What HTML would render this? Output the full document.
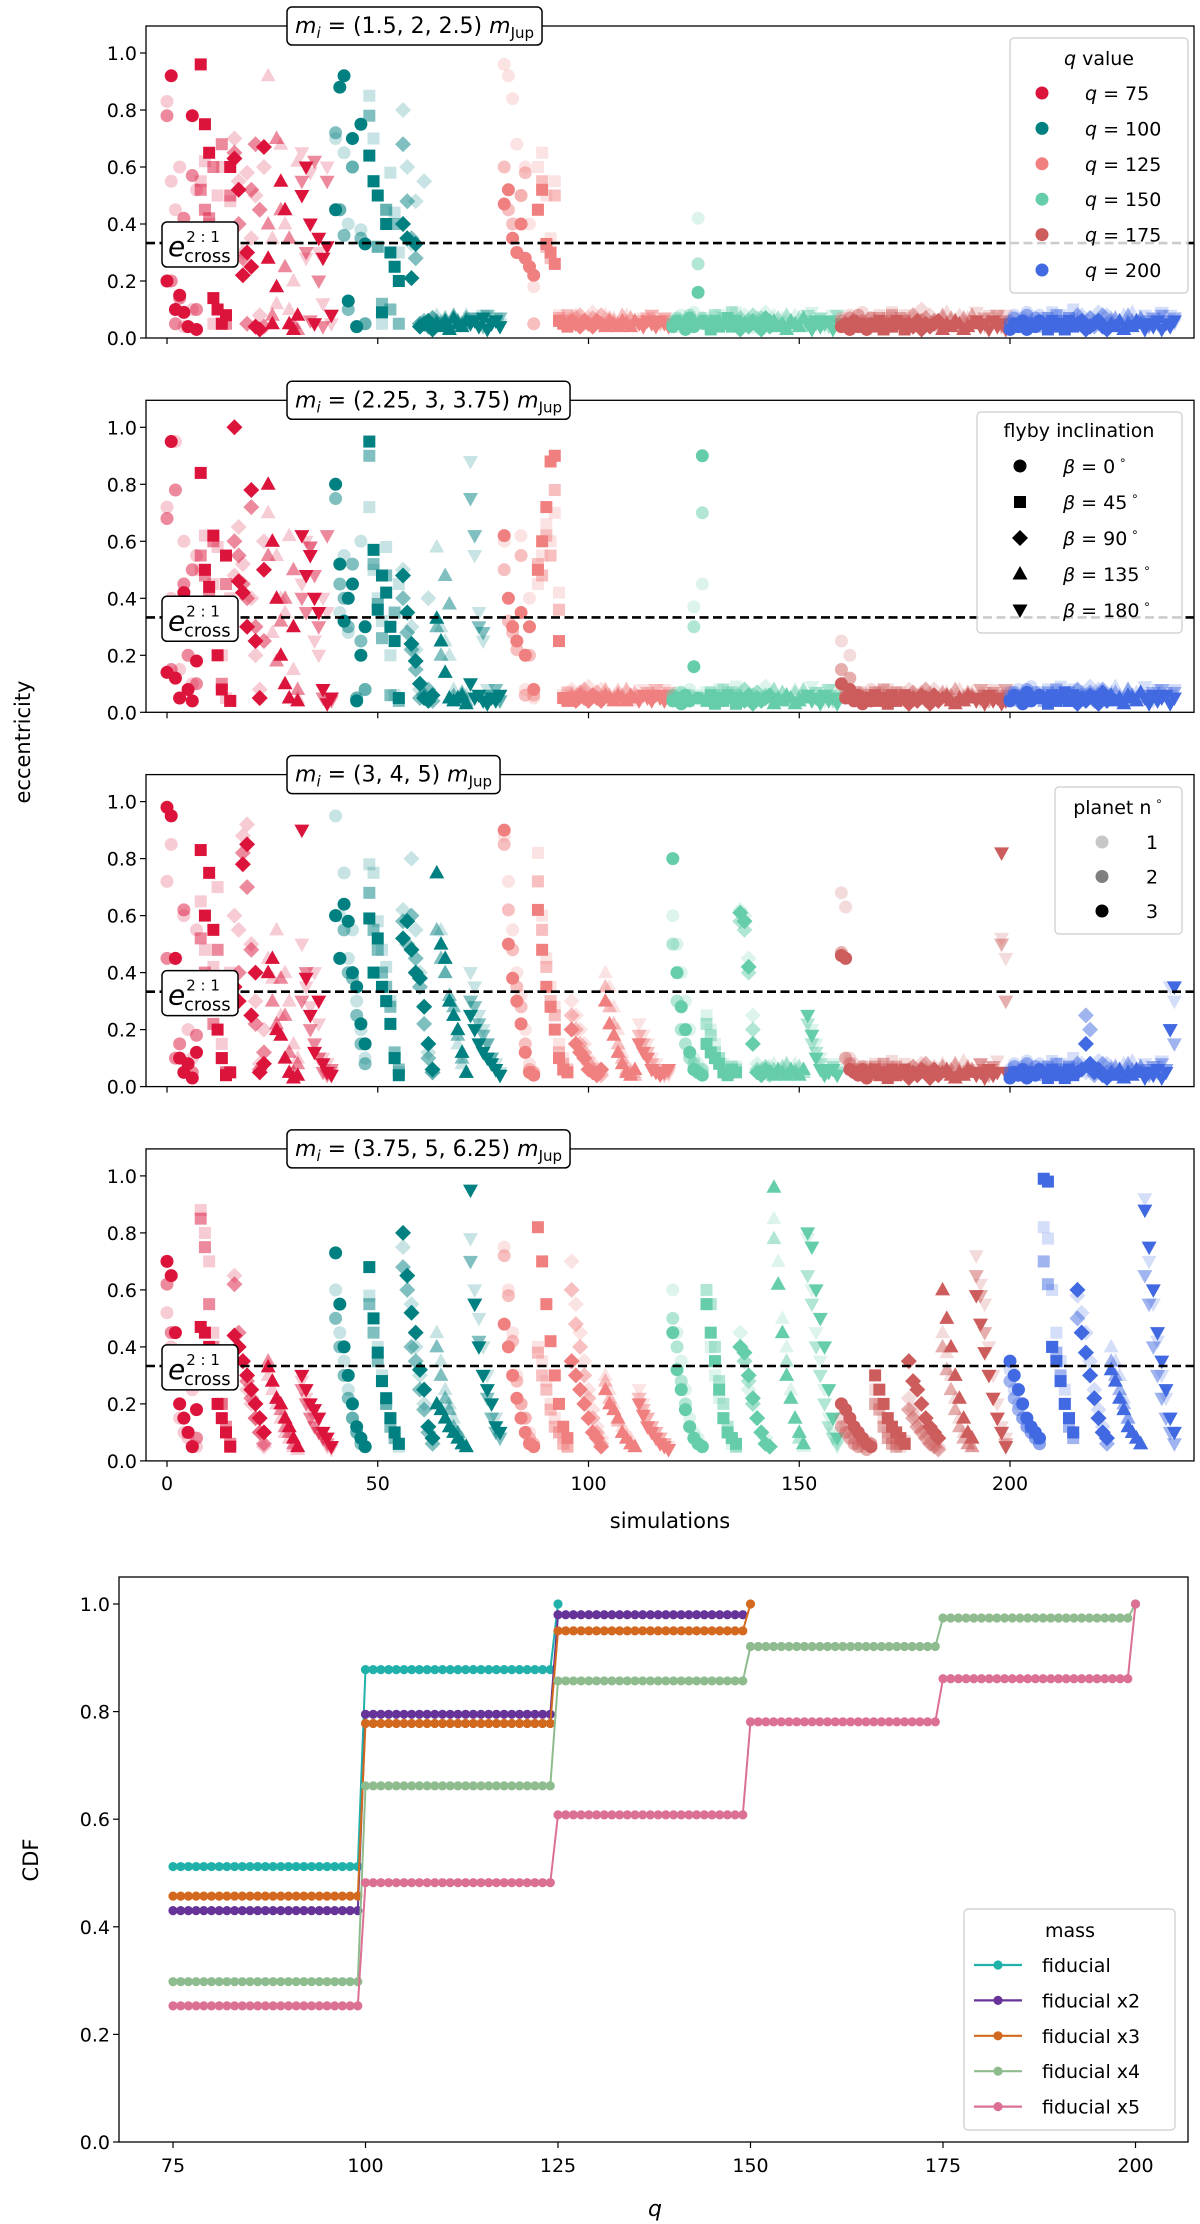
<!DOCTYPE html>
<html><head><meta charset="utf-8"><style>
html,body{margin:0;padding:0;background:#fff;}
svg{display:block;font-family:"DejaVu Sans","Liberation Sans",sans-serif;}
</style></head><body>
<svg id="fig" width="1200" height="2224" viewBox="0 0 1200 2224" xmlns="http://www.w3.org/2000/svg"></svg>
<script>
// ---------- DATA: eccentricities (x100) per panel, per planet, 240 simulations ----------
const P1e1=[83,55,45,60,4,30,10,52,55,62,40,5,50,60,8,48,70,55,30,58,35,50,8,60,92,35,12,68,40,10,20,62,65,28,58,5,30,12,60,5,
70,45,65,40,60,4,38,5,85,70,32,5,45,58,44,30,80,60,33,48,5,55,4,7,8,6,5,4,7,6,5,8,7,6,5,8,4,6,7,5,
96,92,84,68,50,60,40,18,60,65,50,35,55,8,7,6,7,8,6,5,7,9,6,5,8,6,7,5,6,8,7,6,5,7,6,8,5,6,7,5,
6,4,8,5,7,9,42,5,7,6,4,8,5,7,6,9,5,8,6,4,7,5,9,6,8,5,7,6,4,8,5,7,6,9,5,7,4,6,8,5,
7,5,8,6,4,9,5,7,6,8,5,7,9,4,6,8,5,7,6,10,5,8,6,4,7,9,6,5,8,6,7,5,9,6,4,8,5,7,6,8,
6,8,5,7,9,6,4,8,7,5,9,6,8,5,7,10,6,8,5,7,6,9,5,8,7,6,4,8,6,9,5,7,8,6,5,7,9,6,8,5];
const P1e2=[78,20,5,14,42,4,57,10,52,45,42,60,10,68,5,50,65,40,28,5,52,68,45,4,40,8,70,45,25,35,5,3,55,30,6,62,20,4,55,8,
72,45,36,10,60,4,35,5,78,55,32,12,45,10,40,5,68,48,35,28,5,6,4,7,6,5,7,4,8,6,5,7,6,7,5,4,8,5,6,7,
60,45,40,30,50,58,25,5,45,55,32,28,50,7,6,8,5,7,8,6,5,7,6,8,5,7,6,5,8,6,7,5,6,5,7,8,6,5,7,6,
5,7,6,4,8,5,26,7,6,4,8,5,7,6,9,5,7,5,6,8,4,7,5,6,4,7,5,8,6,5,7,4,8,6,5,7,6,4,5,8,
6,4,7,5,8,6,4,7,5,7,6,4,8,5,7,6,4,8,5,6,7,4,6,5,8,5,7,6,4,7,5,8,6,4,7,5,6,8,4,6,
5,7,4,6,8,5,7,6,4,7,5,8,6,4,7,5,8,6,5,7,4,6,8,5,6,7,5,4,8,6,5,7,6,4,7,5,8,6,4,7];
const P1e3=[20,92,10,15,9,4,78,3,96,75,65,14,10,5,8,60,63,52,22,30,25,4,3,67,28,5,18,55,45,5,3,8,50,60,40,5,35,28,32,8,
45,88,92,13,70,4,75,33,64,55,50,9,40,30,25,20,40,35,21,33,4,5,6,3,5,4,6,3,7,5,4,6,5,6,4,7,3,5,6,4,
47,52,35,30,40,28,25,22,45,52,33,30,26,6,5,4,6,5,4,6,5,4,6,5,4,6,5,4,6,5,4,6,5,4,6,5,4,6,5,4,
4,6,5,3,7,4,16,6,5,3,6,4,5,7,4,6,3,5,4,6,5,3,7,4,6,4,5,3,6,5,4,7,5,3,6,4,5,6,3,5,
4,5,3,6,4,5,3,5,4,6,3,5,4,6,5,3,5,4,6,3,5,4,5,6,3,5,4,6,5,3,4,5,6,4,5,3,6,4,5,3,
3,5,4,6,3,5,4,6,5,3,6,4,5,3,6,4,5,6,3,4,5,6,4,3,5,4,6,3,5,4,6,5,3,5,4,6,3,5,4,6];

const P2e1=[72,40,95,15,60,35,10,55,50,62,30,45,58,20,5,40,48,65,52,30,40,20,8,60,70,28,55,40,35,62,15,5,45,60,58,25,20,40,35,5,
80,35,55,28,45,5,60,8,72,50,40,32,58,20,6,45,50,35,30,22,8,5,40,6,58,30,25,20,8,5,4,6,88,55,35,25,8,6,5,4,
60,40,30,25,62,8,40,5,45,55,66,60,70,42,6,5,8,6,5,7,9,6,5,8,7,5,6,8,5,7,6,4,6,8,5,7,6,5,8,6,
5,7,6,4,8,37,6,45,7,5,6,8,5,7,6,9,5,8,6,4,7,5,9,6,8,5,7,6,4,8,5,7,6,9,5,7,4,6,8,5,
25,8,20,6,5,7,4,8,6,7,5,8,6,4,7,5,8,6,5,7,4,6,8,5,6,7,5,4,8,6,5,7,6,4,7,5,8,6,4,7,
7,5,8,6,4,9,5,7,6,8,5,7,9,4,6,8,5,7,6,9,5,8,6,4,7,9,6,5,8,6,7,5,9,6,4,8,5,7,6,8];
const P2e2=[68,15,78,5,45,20,50,10,55,48,40,60,30,10,45,4,60,55,45,40,72,30,5,25,55,60,18,32,40,5,50,8,40,35,58,48,30,5,62,4,
75,45,40,30,52,5,25,8,90,52,38,26,48,6,35,4,40,28,22,15,5,6,8,4,30,20,48,38,6,5,7,4,75,62,30,28,5,6,8,4,
50,32,28,22,55,6,20,6,52,48,62,55,78,36,5,7,6,5,7,8,5,6,7,5,8,6,5,7,6,8,5,7,5,6,7,5,8,6,5,7,
6,5,7,4,6,30,5,70,5,7,6,4,8,5,7,6,4,8,5,6,7,4,6,5,8,5,7,6,4,7,5,8,6,4,7,5,6,8,4,6,
15,6,12,5,7,4,6,5,7,5,8,6,4,7,5,6,5,7,4,6,8,5,6,4,7,5,6,8,4,5,7,6,5,8,6,4,7,5,6,8,
5,7,4,6,8,5,7,6,4,7,5,8,6,4,7,5,8,6,5,7,4,6,8,5,6,7,5,4,8,6,5,7,6,4,7,5,8,6,4,7];
const P2e3=[14,95,12,5,42,8,4,18,84,50,44,62,20,8,55,4,100,46,42,30,78,25,5,50,80,60,40,20,10,5,30,4,62,48,55,40,35,8,3,5,
80,52,32,40,45,4,20,30,95,57,36,48,42,30,25,5,48,35,24,18,10,5,4,6,33,25,14,5,4,5,6,3,10,5,6,4,3,5,4,6,
62,40,30,25,35,20,30,8,50,60,72,88,90,25,5,4,5,4,6,5,4,6,5,4,6,5,4,6,5,4,6,5,4,6,5,4,6,5,4,6,
4,5,3,6,4,16,5,90,4,6,3,5,4,6,5,3,5,4,6,3,5,4,5,6,3,5,4,6,5,3,4,5,6,4,5,3,6,4,5,3,
10,5,8,4,6,3,5,4,6,4,5,3,6,4,5,6,3,5,4,6,5,3,6,4,5,6,4,3,5,4,6,5,4,5,3,6,4,5,3,4,
4,6,5,3,7,4,5,6,5,3,6,4,5,7,4,6,3,5,4,6,5,3,7,4,6,4,5,3,6,5,4,7,5,3,6,4,5,6,3,5];

const P3e1=[72,85,45,38,60,20,10,55,65,48,30,42,70,15,5,40,60,55,88,92,50,30,8,20,45,38,55,25,40,30,15,10,50,35,28,40,22,10,8,5,
95,60,75,45,55,30,20,10,78,75,58,48,42,30,10,5,62,58,80,55,40,28,12,5,75,55,40,30,25,15,8,5,40,35,25,20,15,10,8,5,
88,72,55,40,32,20,8,5,82,60,45,35,28,15,10,5,30,25,20,15,10,8,6,5,40,35,28,20,12,8,6,5,22,18,15,10,8,6,5,4,
60,50,40,30,20,10,8,5,25,20,15,10,8,6,5,7,62,60,45,25,8,6,5,7,8,6,5,7,6,8,5,6,25,20,15,10,6,5,8,6,
68,63,10,8,6,5,7,6,8,6,5,7,9,6,5,8,6,7,5,8,6,4,7,5,8,6,5,7,6,9,5,6,6,8,5,7,6,9,52,45,
6,8,5,7,9,6,4,8,7,5,9,6,8,5,7,10,6,8,5,7,6,9,5,8,7,6,4,8,6,9,5,7,8,6,5,7,9,6,35,30];
const P3e2=[45,30,10,15,62,8,5,18,52,40,35,22,48,10,5,30,35,40,82,70,48,22,6,12,40,30,22,38,25,12,5,8,30,40,20,15,10,5,4,6,
60,45,55,40,38,25,15,8,68,55,48,40,35,28,12,6,58,50,60,45,35,22,10,5,55,45,40,32,28,18,10,5,30,28,22,18,15,10,6,4,
85,62,48,35,28,15,6,5,72,55,42,30,25,12,8,6,25,20,15,12,8,6,5,4,35,28,22,15,10,6,5,4,18,15,12,8,6,5,4,5,
50,30,20,15,10,8,5,6,22,18,12,10,6,5,7,6,58,55,40,20,6,5,7,4,6,5,7,8,5,6,7,5,22,15,12,8,5,6,7,5,
47,10,8,6,5,7,4,6,7,5,8,6,4,7,5,6,5,7,4,6,8,5,6,4,7,5,6,8,4,5,7,6,5,8,6,4,7,5,50,30,
5,7,4,6,8,5,7,6,4,7,5,8,6,4,7,5,8,6,25,20,4,6,8,5,6,7,5,4,8,6,5,7,6,4,7,5,8,6,20,15];
const P3e3=[98,95,45,10,5,8,3,12,83,60,75,55,20,10,4,5,35,30,78,85,25,40,5,8,40,45,20,18,10,5,3,4,90,38,25,12,30,8,5,4,
60,45,64,58,40,35,22,15,59,40,52,35,30,22,10,4,52,58,48,40,38,28,15,6,75,50,45,30,25,20,12,5,25,20,15,12,10,8,6,4,
90,50,38,30,22,12,5,4,62,48,35,28,20,10,6,5,20,15,12,10,6,5,4,6,30,22,18,12,8,5,4,6,15,12,10,6,5,4,5,6,
80,40,28,20,12,6,5,4,15,12,10,8,5,4,6,5,61,58,42,15,5,4,6,5,4,6,5,4,6,5,4,6,25,18,10,6,4,5,6,4,
46,45,6,5,4,6,3,5,6,4,5,3,6,4,5,6,3,5,4,6,5,3,6,4,5,6,4,3,5,4,6,5,4,5,3,6,4,5,82,5,
3,5,4,6,3,5,4,6,5,3,6,4,5,3,6,4,5,6,15,8,5,6,4,3,5,4,6,3,5,4,6,5,3,5,4,6,3,5,20,35];

const P4e1=[52,40,30,15,10,8,25,5,88,80,70,45,30,20,10,5,65,40,35,25,20,15,10,5,30,25,20,15,10,8,5,4,28,22,18,15,10,8,5,4,
60,45,35,25,15,10,8,5,58,50,40,30,20,15,10,5,75,65,55,40,30,20,12,8,45,35,25,20,15,10,8,5,78,60,50,40,30,20,15,10,
75,60,45,30,20,15,10,5,40,35,28,20,15,10,8,5,70,55,45,35,25,18,12,8,30,25,20,15,12,10,8,5,25,20,15,12,10,8,6,5,
60,45,35,25,15,10,8,5,55,40,30,22,15,10,6,5,45,35,25,20,15,10,8,5,85,70,50,40,25,15,10,5,78,60,45,35,25,15,10,5,
15,12,10,8,6,5,7,6,25,20,15,10,8,6,5,7,22,18,15,12,10,8,6,5,45,38,30,22,15,10,6,5,72,62,55,40,30,20,12,8,
32,25,20,15,12,10,8,6,82,78,60,45,35,25,15,10,58,52,45,35,25,18,12,8,40,35,30,22,15,10,8,6,92,70,55,42,30,22,15,10];
const P4e2=[62,45,35,20,15,10,5,8,85,75,55,40,30,20,12,6,62,45,35,28,22,15,10,6,35,28,22,18,12,10,6,5,25,20,15,12,10,8,6,5,
50,40,30,22,15,10,6,5,55,45,35,28,20,12,8,6,68,60,40,35,25,18,10,6,40,30,22,18,12,10,6,5,70,55,42,30,22,15,10,8,
72,58,42,28,20,15,8,6,38,30,25,18,12,10,6,5,60,48,40,30,22,15,10,6,28,22,18,14,10,8,6,5,22,18,15,12,10,8,6,4,
50,40,28,20,12,8,6,5,60,55,40,28,20,12,8,5,40,35,28,20,15,10,6,5,78,62,45,35,22,15,8,6,65,55,40,30,20,12,8,6,
12,10,8,6,5,7,4,6,20,18,12,8,6,5,7,6,18,15,12,10,8,6,5,4,40,32,25,18,12,8,6,5,65,58,45,30,22,15,10,6,
28,22,18,15,12,10,8,6,70,62,40,38,30,20,12,8,50,45,38,30,22,15,10,6,35,30,25,20,15,10,8,6,65,55,40,30,22,15,10,6];
const P4e3=[70,65,45,20,15,10,5,18,47,45,40,30,20,15,10,5,44,40,35,30,25,20,15,10,33,28,22,20,15,12,8,5,30,25,20,18,15,10,8,5,
73,55,40,30,20,12,8,5,68,50,38,28,22,15,10,6,80,65,52,45,32,25,12,8,20,18,15,12,10,8,6,5,95,55,40,30,25,20,12,10,
48,40,30,22,15,10,6,5,82,70,55,42,30,20,12,8,35,30,25,20,15,10,8,5,25,20,18,15,10,8,6,5,20,16,12,10,8,6,5,4,
45,32,25,18,12,8,6,5,55,45,35,25,15,10,8,6,40,38,30,22,15,10,6,5,96,62,45,30,22,15,10,6,80,75,60,50,40,25,15,8,
20,18,15,12,10,8,6,5,30,25,20,15,12,10,8,6,35,28,25,20,15,12,10,8,60,50,40,30,22,15,10,8,58,48,38,30,22,15,10,5,
35,30,25,20,15,12,10,8,99,98,40,35,28,20,15,10,60,45,38,30,22,15,10,8,32,28,22,18,12,10,8,6,88,75,60,45,35,25,15,10];

const panelTitles=["(1.5, 2, 2.5)","(2.25, 3, 3.75)","(3, 4, 5)","(3.75, 5, 6.25)"];
const qValues=[75,100,125,150,175,200];
const betaLabels=["0","45","90","135","180"];
const yTicks=[0,0.2,0.4,0.6,0.8,1.0];
const xTicks=[0,50,100,150,200];
const eCross=0.333;

// CDF data
const cdfQTicks=[75,100,125,150,175,200];
const cdfYTicks=[0,0.2,0.4,0.6,0.8,1.0];
const cdfNames=["fiducial","fiducial x2","fiducial x3","fiducial x4","fiducial x5"];
const cdfFid=[0.512,0.878];
const cdfX2=[0.43,0.795,0.98];
const cdfX3=[0.457,0.778,0.95];
const cdfX4=[0.298,0.662,0.857,0.921,0.974];
const cdfX5=[0.253,0.482,0.608,0.781,0.861];
const cdfFinal=[1.0,null,1.0,1.0,1.0];

// ---------- rendering ----------
const NS="http://www.w3.org/2000/svg";
const svg=document.getElementById('fig');
function el(tag,attrs,parent){const e=document.createElementNS(NS,tag);for(const k in attrs)e.setAttribute(k,attrs[k]);(parent||svg).appendChild(e);return e;}
const colors=["#dc143c","#008080","#f08080","#66cdaa","#cd5c5c","#4169e1"];
const alphas=[0.22,0.5,1];
const X0=167,XS=4.215,AL=146,AR=1194;
function xs(s){return X0+s*XS;}
function bottom(k){return 338+374.3*k;}
function ys(e,k){return bottom(k)-e*285;}
function marker(g,type,cx,cy,color,alpha,sz){
  sz=sz||1;let m;
  if(type===0)m=el('circle',{cx:cx,cy:cy,r:6.5*sz},g);
  else if(type===1)m=el('rect',{x:cx-6*sz,y:cy-6*sz,width:12*sz,height:12*sz},g);
  else if(type===2)m=el('polygon',{points:`${cx},${cy-8*sz} ${cx+8*sz},${cy} ${cx},${cy+8*sz} ${cx-8*sz},${cy}`},g);
  else if(type===3)m=el('polygon',{points:`${cx},${cy-8*sz} ${cx+7.5*sz},${cy+5.5*sz} ${cx-7.5*sz},${cy+5.5*sz}`},g);
  else m=el('polygon',{points:`${cx},${cy+8*sz} ${cx+7.5*sz},${cy-5.5*sz} ${cx-7.5*sz},${cy-5.5*sz}`},g);
  m.setAttribute('fill',color);m.setAttribute('fill-opacity',alpha);
  return m;
}
const panels=[[P1e1,P1e2,P1e3],[P2e1,P2e2,P2e3],[P3e1,P3e2,P3e3],[P4e1,P4e2,P4e3]];
panels.forEach((pd,k)=>{
  const B=bottom(k),T=B-312;
  const g=el('g',{});
  
  
  const cp=el('clipPath',{id:'clip'+k},g);el('rect',{x:AL,y:T,width:AR-AL,height:312},cp);
  const marks=el('g',{'clip-path':`url(#clip${k})`},g);
  
  
  for(let s=0;s<240;s++){
    const blk=Math.floor(s/40),type=Math.floor((s%40)/8);
    for(let p=0;p<3;p++){
      const m=marker(marks,type,xs(s),ys(pd[p][s]/100,k),colors[blk],alphas[p]);
      
      
    }
  }
  // dashed line
  const dl=el('line',{x1:AL,x2:AR,y1:ys(eCross,k),y2:ys(eCross,k),stroke:'#000','stroke-width':2.6,'stroke-dasharray':'9,4.5'},g);
  
  
  // axes
  el('rect',{x:AL,y:T,width:AR-AL,height:312,fill:'none',stroke:'#000','stroke-width':1.3},g);
  yTicks.forEach(v=>{const y=ys(v,k);el('line',{x1:AL-6,x2:AL,y1:y,y2:y,stroke:'#000','stroke-width':1.2},g);
    const t=el('text',{x:AL-9,y:y+7,'text-anchor':'end','font-size':19},g);t.textContent=v.toFixed(1);
    });
  xTicks.forEach(v=>{const x=xs(v);el('line',{x1:x,x2:x,y1:B,y2:B+6,stroke:'#000','stroke-width':1.2},g);
    if(k===3){const t=el('text',{x:x,y:B+29,'text-anchor':'middle','font-size':19},g);t.textContent=v;
      }});
  // e cross label
  const eb=el('rect',{x:162,y:B-116,width:76,height:45,rx:5,fill:'#fff',stroke:'#000','stroke-width':1.5},g);
  
  const et=el('text',{x:168,y:B-82,'font-size':28},g);
  
  et.innerHTML='<tspan font-style="italic">e</tspan><tspan font-size="15" dx="1" dy="-14">2 : 1</tspan><tspan font-size="18" x="184" dy="20">cross</tspan>';
  // title box
  const tt=el('text',{x:295,y:T+7,'font-size':22},g);
  
  tt.innerHTML=`<tspan font-style="italic">m</tspan><tspan font-style="italic" font-size="15" dy="5">i</tspan><tspan dy="-5"> = ${panelTitles[k]} </tspan><tspan font-style="italic">m</tspan><tspan font-size="15" dy="5">Jup</tspan>`;
  const bb=tt.getBBox();
  const tb=el('rect',{x:287,y:T-19,width:bb.width+16,height:38,rx:5,fill:'#fff',stroke:'#000','stroke-width':1.5},g);
  g.insertBefore(tb,tt);
});
// axis labels
let t=el('text',{x:0,y:0,'font-size':21,'text-anchor':'middle',transform:'translate(30,742) rotate(-90)'});t.textContent='eccentricity';

t=el('text',{x:670,y:1528,'font-size':21,'text-anchor':'middle'});t.textContent='simulations';


function legendBox(x,y,w,h,name){const r=el('rect',{x:x,y:y,width:w,height:h,rx:4,fill:'#fff','fill-opacity':0.8,stroke:'#ccc','stroke-width':1.2});
  }
// legend 1
legendBox(1010,38,178,255,'q-value-legend');
t=el('text',{x:1099,y:65,'font-size':19,'text-anchor':'middle'});t.innerHTML='<tspan font-style="italic">q</tspan> value';

qValues.forEach((q,i)=>{const y=93+i*35.4;marker(svg,0,1042,y,colors[i],1);
  const tx=el('text',{x:1085,y:y+7,'font-size':19});tx.innerHTML=`<tspan font-style="italic">q</tspan> = ${q}`;
  });
// legend 2
legendBox(977,412,205,221,'flyby-legend');
t=el('text',{x:1079,y:437,'font-size':19,'text-anchor':'middle'});t.textContent='flyby inclination';

betaLabels.forEach((b,i)=>{const y=466+i*36;marker(svg,i,1020,y,'#000',1);
  const tx=el('text',{x:1063,y:y+7,'font-size':19});tx.innerHTML=`<tspan font-style="italic">β</tspan> = ${b}<tspan font-size="12" dy="-9"> ∘</tspan>`;
  });
// legend 3
legendBox(1055,787,127,147,'planet-legend');
t=el('text',{x:1118,y:814,'font-size':19,'text-anchor':'middle'});t.innerHTML='planet n<tspan font-size="12" dy="-9"> ∘</tspan>';

[1,2,3].forEach((n,i)=>{const y=842+i*34.5;marker(svg,0,1102,y,'#000',alphas[i]);
  const tx=el('text',{x:1146,y:y+7,'font-size':19});tx.textContent=n;
  });

// ---------- CDF ----------
const CL=119,CR=1188,CT=1577,CB=2142;
function xq(q){return 173+(q-75)*7.7;}
function yc(v){return CB-v*538;}
const cg=el('g',{});
el('rect',{x:CL,y:CT,width:CR-CL,height:CB-CT,fill:'none',stroke:'#000','stroke-width':1.3},cg);
cdfYTicks.forEach(v=>{const y=yc(v);el('line',{x1:CL-6,x2:CL,y1:y,y2:y,stroke:'#000','stroke-width':1.2},cg);
  const tx=el('text',{x:CL-9,y:y+7,'text-anchor':'end','font-size':19},cg);tx.textContent=v.toFixed(1);
  });
cdfQTicks.forEach(v=>{const x=xq(v);el('line',{x1:x,x2:x,y1:CB,y2:CB+6,stroke:'#000','stroke-width':1.2},cg);
  const tx=el('text',{x:x,y:CB+30,'text-anchor':'middle','font-size':19},cg);tx.textContent=v;
  });
t=el('text',{x:0,y:0,'font-size':21,'text-anchor':'middle',transform:'translate(38,1860) rotate(-90)'});t.textContent='CDF';

t=el('text',{x:655,y:2216,'font-size':22,'text-anchor':'middle','font-style':'italic'});t.textContent='q';

const cdfColors=["#20b2aa","#663399","#d2691e","#8fbc8f","#db7093"];
[cdfFid,cdfX2,cdfX3,cdfX4,cdfX5].forEach((lev,i)=>{
  const pts=[];
  lev.forEach((v,j)=>{for(let q=75+25*j;q<=99+25*j;q++)pts.push([q,v]);});
  if(cdfFinal[i]!==null)pts.push([75+25*lev.length,cdfFinal[i]]);
  const sg=el('g',{},cg);
  el('polyline',{points:pts.map(p=>xq(p[0])+','+yc(p[1])).join(' '),fill:'none',stroke:cdfColors[i],'stroke-width':2},sg);
  pts.forEach(p=>{const c=el('circle',{cx:xq(p[0]),cy:yc(p[1]),r:4.6,fill:cdfColors[i]},sg);
    });
});
legendBox(964,1909,211,221,'mass-legend');
t=el('text',{x:1070,y:1937,'font-size':19,'text-anchor':'middle'});t.textContent='mass';

cdfNames.forEach((n,i)=>{const y=1965+i*35.4;
  el('line',{x1:974,x2:1022,y1:y,y2:y,stroke:cdfColors[i],'stroke-width':2.2});
  el('circle',{cx:998,cy:y,r:4.6,fill:cdfColors[i]});
  const tx=el('text',{x:1042,y:y+7,'font-size':19});tx.textContent=n;
  });
</script>
</body></html>
